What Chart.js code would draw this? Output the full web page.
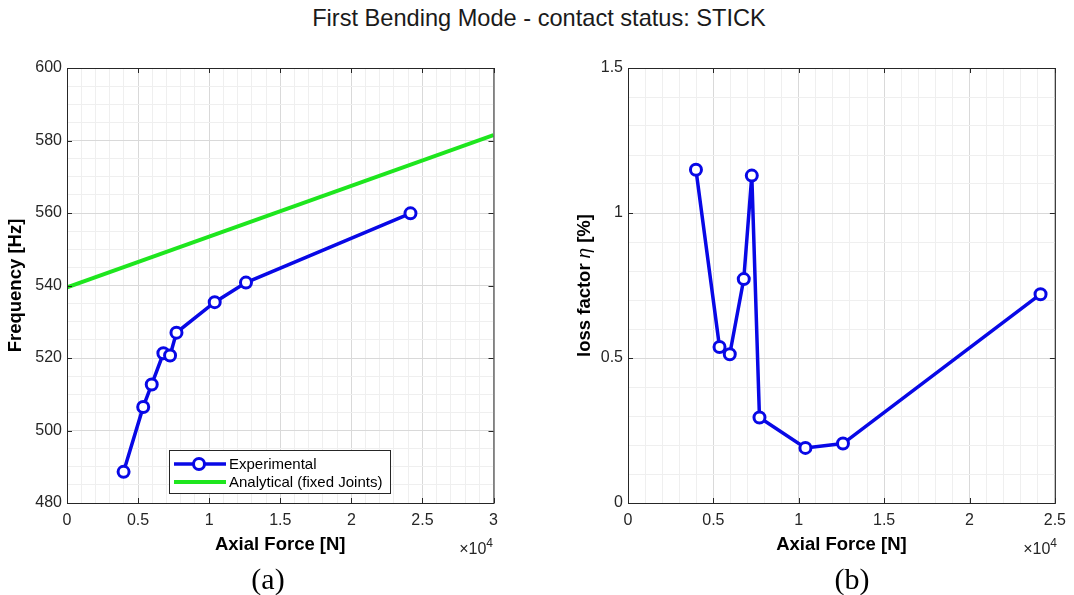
<!DOCTYPE html>
<html>
<head>
<meta charset="utf-8">
<title>First Bending Mode - contact status: STICK</title>
<script src="https://cdn.jsdelivr.net/npm/chart.js@4.4.0/dist/chart.umd.min.js"></script>
<style>
  body { margin: 0; background: #fff; width: 1074px; height: 595px; overflow: hidden; position: relative;
         font-family: 'Liberation Sans', Arial, sans-serif; color: #1a1a1a; }
  #title { position: absolute; left: 0; top: 5px; width: 1078px; text-align: center; font-size: 23.6px; line-height: 26px; }
  canvas { position: absolute; top: 0; }
  .caption { position: absolute; top: 564px; font-family: 'Liberation Serif', 'Times New Roman', serif;
             font-size: 30px; line-height: 30px; transform: translateX(-50%); color: #000; }
  .expo { position: absolute; top: 540px; font-size: 16px; line-height: 18px; color: #262626; }
  .expo sup { font-size: 12px; vertical-align: 7px; line-height: 0; }
</style>
</head>
<body>
<div id="title">First Bending Mode - contact status: STICK</div>
<canvas id="freqChart" width="537" height="595" style="left:0"></canvas>
<canvas id="lossChart" width="537" height="595" style="left:537px"></canvas>
<div class="expo" style="right:581px">&times;10<sup>4</sup></div>
<div class="expo" style="right:17px">&times;10<sup>4</sup></div>
<div class="caption" style="left:268px">(a)</div>
<div class="caption" style="left:852px">(b)</div>

<script>
// measured points (axial force in N)
const axialForce = [3980, 5360, 5960, 6780, 7250, 7700, 10390, 12590, 24160];
const frequencyHz = [488.6, 506.5, 512.7, 521.3, 520.7, 527.0, 535.4, 540.8, 559.9];
const lossFactor = [1.149, 0.538, 0.513, 0.772, 1.129, 0.295, 0.190, 0.205, 0.720];

// analytical model, fixed joints
const analyticalForce = [0, 30000];
const analyticalHz = [539.5, 581.5];

// labelled ticks
const forceTicksA = [0, 5000, 10000, 15000, 20000, 25000, 30000];
const forceTicksB = [0, 5000, 10000, 15000, 20000, 25000];
const freqTicks = [480, 500, 520, 540, 560, 580, 600];
const lossTicks = [0, 0.5, 1, 1.5];

const BLUE = '#0808e6';
const GREEN = '#1ee61e';
const AXIS = '#262626';
const FONT = "'Liberation Sans', Arial, sans-serif";

const isMajor = (v, majors) => majors.some(m => Math.abs(m - v) < 1e-6);
const points = (xs, ys) => xs.map((x, i) => ({ x: x, y: ys[i] }));

// box around the axes with inward tick marks, like a matlab plot
const framePlugin = {
  id: 'frame',
  afterDraw(chart) {
    const { ctx, chartArea: a, scales } = chart;
    const tl = 5;
    ctx.save();
    ctx.strokeStyle = AXIS;
    ctx.lineWidth = 1;
    ctx.strokeRect(a.left + 0.5, a.top + 0.5, a.right - a.left, a.bottom - a.top);
    ctx.beginPath();
    chart.options.majorX.forEach(v => {
      const x = Math.round(scales.x.getPixelForValue(v)) + 0.5;
      ctx.moveTo(x, a.bottom); ctx.lineTo(x, a.bottom - tl);
      ctx.moveTo(x, a.top); ctx.lineTo(x, a.top + tl);
    });
    chart.options.majorY.forEach(v => {
      const y = Math.round(scales.y.getPixelForValue(v)) + 0.5;
      ctx.moveTo(a.left, y); ctx.lineTo(a.left + tl, y);
      ctx.moveTo(a.right, y); ctx.lineTo(a.right - tl, y);
    });
    ctx.stroke();
    ctx.restore();
  }
};

// rotated y title made of pieces with their own fonts (italic eta)
const richYTitle = {
  id: 'richYTitle',
  afterDraw(chart) {
    const parts = chart.options.richYTitle;
    if (!parts) return;
    const { ctx, chartArea: a } = chart;
    ctx.save();
    ctx.fillStyle = '#000';
    ctx.textBaseline = 'middle';
    const widths = parts.map(p => { ctx.font = p.font; return ctx.measureText(p.text).width; });
    const total = widths.reduce((s, w) => s + w, 0);
    ctx.translate(chart.options.richYTitleX, (a.top + a.bottom) / 2);
    ctx.rotate(-Math.PI / 2);
    let x = -total / 2;
    parts.forEach((p, i) => {
      ctx.font = p.font;
      ctx.fillText(p.text, x, 0);
      x += widths[i];
    });
    ctx.restore();
  }
};

// legend box drawn inside the plot area
const insideLegend = {
  id: 'insideLegend',
  afterDraw(chart) {
    if (!chart.options.insideLegend) return;
    const { ctx, chartArea: a } = chart;
    const left = a.left + 102, top = a.bottom - 53, w = 221, h = 43;
    ctx.save();
    ctx.fillStyle = '#fff';
    ctx.fillRect(left, top, w, h);
    ctx.strokeStyle = AXIS;
    ctx.lineWidth = 1;
    ctx.strokeRect(left + 0.5, top + 0.5, w, h);
    ctx.font = '15px ' + FONT;
    ctx.textBaseline = 'middle';
    ctx.fillStyle = '#000';
    chart.data.datasets.forEach((ds, i) => {
      const y = top + 14 + i * 18;
      ctx.strokeStyle = ds.borderColor;
      ctx.lineWidth = ds.borderWidth;
      ctx.beginPath();
      ctx.moveTo(left + 5, y);
      ctx.lineTo(left + 57, y);
      ctx.stroke();
      if (ds.pointRadius > 0) {
        ctx.beginPath();
        ctx.arc(left + 30, y, ds.pointRadius, 0, Math.PI * 2);
        ctx.fillStyle = '#fff';
        ctx.fill();
        ctx.lineWidth = ds.pointBorderWidth;
        ctx.stroke();
        ctx.fillStyle = '#000';
      }
      ctx.fillText(ds.label, left + 60, y + 1);
    });
    ctx.restore();
  }
};

function axisScales(cfg) {
  const grid = majors => ({
    drawTicks: false,
    color: c => isMajor(c.tick.value, majors) ? '#d9d9d9' : '#efefef',
    lineWidth: 1
  });
  return {
    x: {
      type: 'linear', min: cfg.xMin, max: cfg.xMax, offset: false,
      afterFit: s => { s.height = 92; },
      border: { display: false },
      grid: grid(cfg.majorX),
      ticks: {
        stepSize: 1000, autoSkip: false, maxRotation: 0, padding: 8,
        color: AXIS, font: { family: FONT, size: 16 },
        callback: v => isMajor(v, cfg.majorX) ? String(v / 10000) : ''
      },
      title: {
        display: true, text: 'Axial Force [N]', color: '#000',
        font: { family: FONT, size: 18.5, weight: 'bold' },
        padding: { top: 0, bottom: 39 }
      }
    },
    y: {
      type: 'linear', min: cfg.yMin, max: cfg.yMax,
      afterFit: s => { s.width = cfg.yWidth; },
      border: { display: false },
      grid: grid(cfg.majorY),
      ticks: {
        stepSize: cfg.yStep, autoSkip: false, padding: 5,
        color: AXIS, font: { family: FONT, size: 16 },
        callback: v => isMajor(v, cfg.majorY) ? String(v) : ''
      },
      title: {
        display: !!cfg.yTitle, text: cfg.yTitle || '', color: '#000',
        font: { family: FONT, size: 18.5, weight: 'bold' },
        padding: { top: cfg.yTitlePad, bottom: 0 }
      }
    }
  };
}

function makeChart(id, datasets, cfg) {
  return new Chart(document.getElementById(id), {
    type: 'scatter',
    data: { datasets: datasets },
    options: {
      responsive: false,
      animation: false,
      devicePixelRatio: 1,
      layout: { padding: { left: 0, top: 68, right: cfg.padRight, bottom: 0 } },
      plugins: { legend: { display: false }, tooltip: { enabled: false } },
      majorX: cfg.majorX,
      majorY: cfg.majorY,
      insideLegend: cfg.legend,
      richYTitle: cfg.richYTitle,
      richYTitleX: cfg.richYTitleX,
      scales: axisScales(cfg)
    },
    plugins: [framePlugin, insideLegend, richYTitle]
  });
}

const experimentalStyle = {
  showLine: true,
  borderColor: BLUE,
  borderWidth: 3.5,
  pointRadius: 5.5,
  pointBorderWidth: 3,
  pointBorderColor: BLUE,
  pointBackgroundColor: '#fff'
};

makeChart('freqChart', [
  Object.assign({ label: 'Experimental', data: points(axialForce, frequencyHz) }, experimentalStyle),
  {
    label: 'Analytical (fixed Joints)',
    data: points(analyticalForce, analyticalHz),
    showLine: true, borderColor: GREEN, borderWidth: 4, pointRadius: 0
  }
], {
  xMin: 0, xMax: 30000, yMin: 480, yMax: 600, yStep: 5,
  majorX: forceTicksA, majorY: freqTicks,
  yWidth: 67, padRight: 43.5, yTitle: 'Frequency [Hz]', yTitlePad: 4.5, legend: true
});

const boldTitle = 'bold 18.5px ' + FONT;
makeChart('lossChart', [
  Object.assign({ label: 'Experimental', data: points(axialForce, lossFactor) }, experimentalStyle)
], {
  xMin: 0, xMax: 25000, yMin: 0, yMax: 1.5, yStep: 0.1,
  majorX: forceTicksB, majorY: lossTicks,
  yWidth: 91, padRight: 18.5, yTitle: null, yTitlePad: 0, legend: false,
  richYTitle: [
    { text: 'loss factor ', font: boldTitle },
    { text: '\u03b7', font: 'italic 18.5px ' + FONT },
    { text: ' [%]', font: boldTitle }
  ],
  richYTitleX: 48
});
</script>
</body>
</html>
